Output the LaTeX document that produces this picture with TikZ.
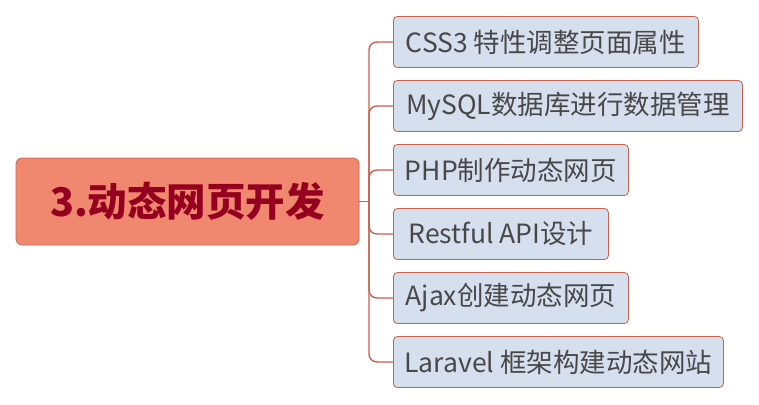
\documentclass[tikz,border=0pt]{standalone}
\usepackage{fontspec}
\setmainfont{Noto Sans CJK SC}
\definecolor{rootfill}{RGB}{240,136,112}
\definecolor{rootdraw}{RGB}{208,100,78}
\definecolor{roottext}{RGB}{150,0,32}
\definecolor{kidfill}{RGB}{214,223,238}
\definecolor{kiddraw}{RGB}{200,96,74}
\definecolor{kidtext}{RGB}{72,72,72}
\definecolor{linecol}{RGB}{200,96,74}
\tikzset{
  rootbox/.style={draw=rootdraw, line width=0.8pt, fill=rootfill, rounded corners=6pt,
    minimum width=343pt, minimum height=87pt, inner sep=0pt, text=roottext,
    font=\fontsize{39.5}{42}\selectfont\bfseries},
  kidbox/.style={draw=kiddraw, line width=0.8pt, fill=kidfill, rounded corners=4pt,
    minimum height=51pt, inner sep=0pt, anchor=west, text=kidtext,
    font=\fontsize{26.5}{29}\selectfont},
  branch/.style={draw=linecol, line width=1.4pt, rounded corners=8pt},
}
\begin{document}
\begin{tikzpicture}[x=1pt,y=-1pt]
\useasboundingbox (0,0) rectangle (759,404);
\node[rootbox] (root) at (187.5,201.5) {3.动态网页开发};
\coordinate (j) at (369,201.5);
\node[kidbox, minimum width=305pt] (k1) at (393,42) {CSS3 特性调整页面属性};
\node[kidbox, minimum width=349pt] (k2) at (393,106) {MySQL数据库进行数据管理};
\node[kidbox, minimum width=235pt] (k3) at (393,170) {PHP制作动态网页};
\node[kidbox, minimum width=215pt] (k4) at (393,234) {Restful API设计};
\node[kidbox, minimum width=235pt] (k5) at (393,298) {Ajax创建动态网页};
\node[kidbox, minimum width=330pt] (k6) at (393,362) {Laravel 框架构建动态网站};
\draw[branch] (root.east) -- (j);
\foreach \k in {k1,k2,k3,k4,k5,k6}{
  \draw[branch] (j) |- (\k.west);
}
\end{tikzpicture}
\end{document}
